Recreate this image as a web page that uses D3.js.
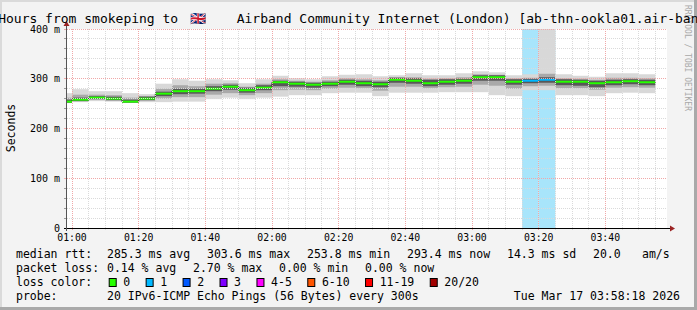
<!DOCTYPE html>
<html>
<head>
<meta charset="utf-8">
<script src="https://cdn.jsdelivr.net/npm/d3@7"></script>
<style>
  body { margin: 0; background: #f3f3f3; }
  svg { display: block; }
  text { font-family: "DejaVu Sans Mono", monospace; fill: #000; }
</style>
</head>
<body>
<svg id="chart" width="697" height="310"></svg>
<script>
// ─── DATA ───
// start of each 5 minute step
const TIMES = ['00:55','01:00','01:05','01:10','01:15','01:20','01:25','01:30','01:35','01:40','01:45','01:50',
  '01:55','02:00','02:05','02:10','02:15','02:20','02:25','02:30','02:35','02:40','02:45','02:50',
  '02:55','03:00','03:05','03:10','03:15','03:20','03:25','03:30','03:35','03:40','03:45','03:50'];
const MEDIAN   = [254,258,262,260,254,260,270,275,275,280,284,277,282,293,290,288,290,294,291,289,298,296,291,294,296,303,303,294,296,298,294,294,291,293,295,293];
const SMOKE_LO = [251,253,255,254,252,253,253,254,254,259,262,259,262,264,267,267,271,272,272,265,272,272,272,273,273,273,267,265,277,277,267,267,265,271,272,271];
const SMOKE_HI = [271,279,275,275,271,269,290,299,296,299,297,291,299,306,301,299,305,308,309,305,307,311,307,307,311,315,313,307,309,520,309,306,304,311,311,309];
const MID_LO   = [252,255,258,256,253,256,260,263,263,268,271,267,271,277,278,277,280,282,281,276,284,284,281,283,284,288,286,280,285,286,281,281,278,282,283,282];
const MID_HI   = [262,268,268,267,262,265,280,287,285,290,291,284,290,299,296,294,297,301,299,297,303,303,300,301,303,309,308,301,302,310,301,300,298,302,302,301];
const CORE_LO  = [252,255,259,257,252,257,265,269,270,275,278,272,277,285,284,282,285,288,285,283,292,290,285,288,290,296,296,288,291,292,287,286,283,287,289,287];
const CORE_HI  = [258,262,265,264,258,264,274,280,280,285,288,282,287,296,294,292,294,298,296,294,302,301,298,299,300,307,307,299,300,303,299,298,296,298,299,298];
const LOST     = [0,0,0,0,0,0,0,0,0,0,0,0,0,0,0,0,0,0,0,0,0,0,0,0,0,0,0,0,1,1,0,0,0,0,0,0];

const LOSS_LABELS = ['0','1','2','3','4-5','6-10','11-19','20/20'];
const LOSS_COLORS = ['#26ff00','#00b8ff','#0059ff','#7e00ff','#ff00ff','#ff5500','#ff0000','#a10000'];
const LOSS_BG     = ['none','#a8e5fb','#a9c6fb','#cfa9fb','#fba9fb','#fbc6a9','#fba9a9','#e0a9a9'];

const X_TICKS = ['01:00','01:20','01:40','02:00','02:20','02:40','03:00','03:20','03:40'];
const Y_TICKS = [0, 100, 200, 300, 400];
const Y_LABELS = ['0', '100 m', '200 m', '300 m', '400 m'];

const TITLE_HEAD = '3 Hours from smokeping to';
const TITLE_FLAG = '\u{1F1EC}\u{1F1E7}';
const TITLE_TAIL = 'Airband Community Internet (London) [ab-thn-ookla01.air-band.net]';
const RTT_STATS  = ['285.3 ms avg', '303.6 ms max', '253.8 ms min', '293.4 ms now', '14.3 ms sd', '20.0', 'am/s'];
const LOSS_STATS = ['0.14 % avg', '2.70 % max', '0.00 % min', '0.00 % now'];
const PROBE_TEXT = '20 IPv6-ICMP Echo Pings (56 Bytes) every 300s';
const STAMP      = 'Tue Mar 17 03:58:18 2026';
const WATERMARK  = 'RRDTOOL / TOBI OETIKER';

// ─── LAYOUT ───
const W = 697, H = 310;
const PLOT = { left: 67, right: 667, top: 29, bottom: 228 };
const CHAR_W = 6.94;            // legend glyph advance
const RTT_X  = [107, 207, 307, 407, 507, 593, 642];
const LOSSX  = [107, 193, 279, 365];
const MINOR_GRID = '#dadada';
const MAJOR_GRID = '#f0a8a8';
const ARROW = '#9b2323';

const parse = d3.timeParse('%H:%M');
const svg = d3.select('#chart');

// frame
svg.append('rect').attr('width', W).attr('height', H).attr('fill', '#f3f3f3');
svg.append('rect').attr('width', W).attr('height', 2).attr('fill', '#dadada');
svg.append('rect').attr('width', 2).attr('height', H).attr('fill', '#dadada');
svg.append('rect').attr('x', W - 3).attr('width', 3).attr('height', H).attr('fill', '#a9a9a9');
svg.append('rect').attr('y', H - 3).attr('width', W).attr('height', 3).attr('fill', '#a9a9a9');

const start = d3.timeSecond.offset(parse('00:58'), 30);
const end = d3.timeHour.offset(start, 3);
const x = d3.scaleTime().domain([start, end]).range([PLOT.left, PLOT.right]);
const y = d3.scaleLinear().domain([0, 400]).range([PLOT.bottom, PLOT.top]);

svg.append('rect')
  .attr('x', PLOT.left).attr('y', PLOT.top)
  .attr('width', PLOT.right - PLOT.left).attr('height', PLOT.bottom - PLOT.top)
  .attr('fill', '#fff');

svg.append('clipPath').attr('id', 'plot-clip').append('rect')
  .attr('x', PLOT.left).attr('y', PLOT.top)
  .attr('width', PLOT.right - PLOT.left).attr('height', PLOT.bottom - PLOT.top);

const steps = TIMES.map((t, i) => {
  const t0 = parse(t);
  return {
    x0: x(t0), x1: x(d3.timeMinute.offset(t0, 5)),
    med: MEDIAN[i], lost: LOST[i],
    bands: [[SMOKE_LO[i], SMOKE_HI[i]], [MID_LO[i], MID_HI[i]], [CORE_LO[i], CORE_HI[i]]]
  };
});
const lossClass = n => n === 0 ? 0 : n <= 3 ? n : n <= 5 ? 4 : n <= 10 ? 5 : n <= 19 ? 6 : 7;

const data = svg.append('g').attr('clip-path', 'url(#plot-clip)');

// loss background bars
data.selectAll('.lossbg').data(steps.filter(d => d.lost > 0)).enter()
  .append('rect')
  .attr('x', d => d.x0).attr('width', d => d.x1 - d.x0)
  .attr('y', PLOT.top).attr('height', PLOT.bottom - PLOT.top)
  .attr('fill', d => LOSS_BG[lossClass(d.lost)]);

// smoke, light to dark
const SMOKE_SHADES = ['#d8d8d8', '#a9a9a9', '#585858'];
SMOKE_SHADES.forEach((shade, k) => {
  data.selectAll('.smoke' + k).data(steps).enter()
    .append('rect')
    .attr('x', d => d.x0).attr('width', d => d.x1 - d.x0)
    .attr('y', d => y(d.bands[k][1]))
    .attr('height', d => y(d.bands[k][0]) - y(d.bands[k][1]))
    .attr('fill', shade);
});

// grid
const grid = svg.append('g');
const crisp = v => Math.floor(v) + 0.5;
d3.range(0, 401, 20).forEach(v => {
  const major = v % 100 === 0;
  const yy = crisp(y(v));
  grid.append('line')
    .attr('x1', PLOT.left).attr('x2', PLOT.right).attr('y1', yy).attr('y2', yy)
    .attr('stroke', major ? MAJOR_GRID : MINOR_GRID).attr('stroke-dasharray', '1,1');
  grid.append('line')
    .attr('x1', PLOT.left - 3).attr('x2', PLOT.left).attr('y1', yy).attr('y2', yy)
    .attr('stroke', major ? MAJOR_GRID : '#9a9a9a');
});
d3.timeMinute.every(5).range(start, end).forEach(t => {
  const major = t.getMinutes() % 20 === 0;
  const xx = crisp(x(t));
  grid.append('line')
    .attr('x1', xx).attr('x2', xx).attr('y1', PLOT.top).attr('y2', PLOT.bottom + 3)
    .attr('stroke', major ? MAJOR_GRID : MINOR_GRID).attr('stroke-dasharray', '1,1');
});

// median: dark step connectors, then loss coloured bars
data.append('path')
  .datum(steps)
  .attr('fill', 'none').attr('stroke', '#222').attr('stroke-width', 1)
  .attr('d', d3.line().curve(d3.curveStepAfter).x(d => d.x0).y(d => y(d.med))(
    steps.concat([{ x0: steps[steps.length - 1].x1, med: steps[steps.length - 1].med }])));
data.selectAll('.median').data(steps).enter()
  .append('rect')
  .attr('x', d => d.x0).attr('width', d => d.x1 - d.x0)
  .attr('y', d => y(d.med) - 1).attr('height', 2)
  .attr('fill', d => LOSS_COLORS[lossClass(d.lost)]);

// axes
svg.append('line').attr('x1', PLOT.left - 3).attr('x2', PLOT.right + 4)
  .attr('y1', PLOT.bottom + 0.5).attr('y2', PLOT.bottom + 0.5).attr('stroke', '#000');
svg.append('line').attr('x1', PLOT.left - 0.5).attr('x2', PLOT.left - 0.5)
  .attr('y1', PLOT.bottom + 3).attr('y2', PLOT.top - 4).attr('stroke', '#555');
svg.append('path').attr('fill', ARROW)
  .attr('d', `M${PLOT.left - 3.5},${PLOT.top - 3}L${PLOT.left - 0.5},${PLOT.top - 8}L${PLOT.left + 2.5},${PLOT.top - 3}Z`);
svg.append('path').attr('fill', ARROW)
  .attr('d', `M${PLOT.right + 3},${PLOT.bottom - 2.5}L${PLOT.right + 8},${PLOT.bottom + 0.5}L${PLOT.right + 3},${PLOT.bottom + 3.5}Z`);

// tick labels
svg.selectAll('.ylab').data(Y_TICKS).enter()
  .append('text')
  .attr('x', 60).attr('y', d => y(d) + 3.6)
  .attr('text-anchor', 'end').attr('font-size', '10px')
  .text((d, i) => Y_LABELS[i]);
svg.selectAll('.xlab').data(X_TICKS).enter()
  .append('text')
  .attr('x', d => x(parse(d))).attr('y', 241)
  .attr('text-anchor', 'middle').attr('font-size', '9.8px')
  .text(d => d);

svg.append('text')
  .attr('transform', 'translate(15,128) rotate(-90)')
  .attr('text-anchor', 'middle').attr('font-size', '11.5px')
  .text('Seconds');

svg.append('text')
  .attr('transform', 'translate(685,5) rotate(90)')
  .attr('font-size', '8px').style('fill', '#a8a8a8')
  .text(WATERMARK);

// title
const title = svg.append('text').attr('y', 23).attr('font-size', '13px');
title.append('tspan').attr('x', -17.5).text(TITLE_HEAD);
title.append('tspan').attr('x', 190).text(TITLE_FLAG);
title.append('tspan').attr('x', 236.7).text(TITLE_TAIL);

// legend
const legend = svg.append('g').attr('font-size', '11.5px');
const ROWS = [258, 272, 286, 300];
legend.append('text').attr('x', 16).attr('y', ROWS[0]).text('median rtt:');
RTT_STATS.forEach((s, i) => legend.append('text').attr('x', RTT_X[i]).attr('y', ROWS[0]).text(s));
legend.append('text').attr('x', 16).attr('y', ROWS[1]).text('packet loss:');
LOSS_STATS.forEach((s, i) => legend.append('text').attr('x', LOSSX[i]).attr('y', ROWS[1]).text(s));
legend.append('text').attr('x', 16).attr('y', ROWS[2]).text('loss color:');
let sx = 108.7;
LOSS_LABELS.forEach((lab, i) => {
  legend.append('rect')
    .attr('x', sx + 0.5).attr('y', ROWS[2] - 7.5).attr('width', 7).attr('height', 8)
    .attr('fill', LOSS_COLORS[i]).attr('stroke', '#000');
  legend.append('text').attr('x', sx + 14.6).attr('y', ROWS[2]).text(lab);
  sx += 30 + lab.length * CHAR_W;
});
legend.append('text').attr('x', 16).attr('y', ROWS[3]).text('probe:');
legend.append('text').attr('x', 107).attr('y', ROWS[3]).text(PROBE_TEXT);
legend.append('text').attr('x', 680).attr('y', ROWS[3]).attr('text-anchor', 'end').text(STAMP);
</script>
</body>
</html>
